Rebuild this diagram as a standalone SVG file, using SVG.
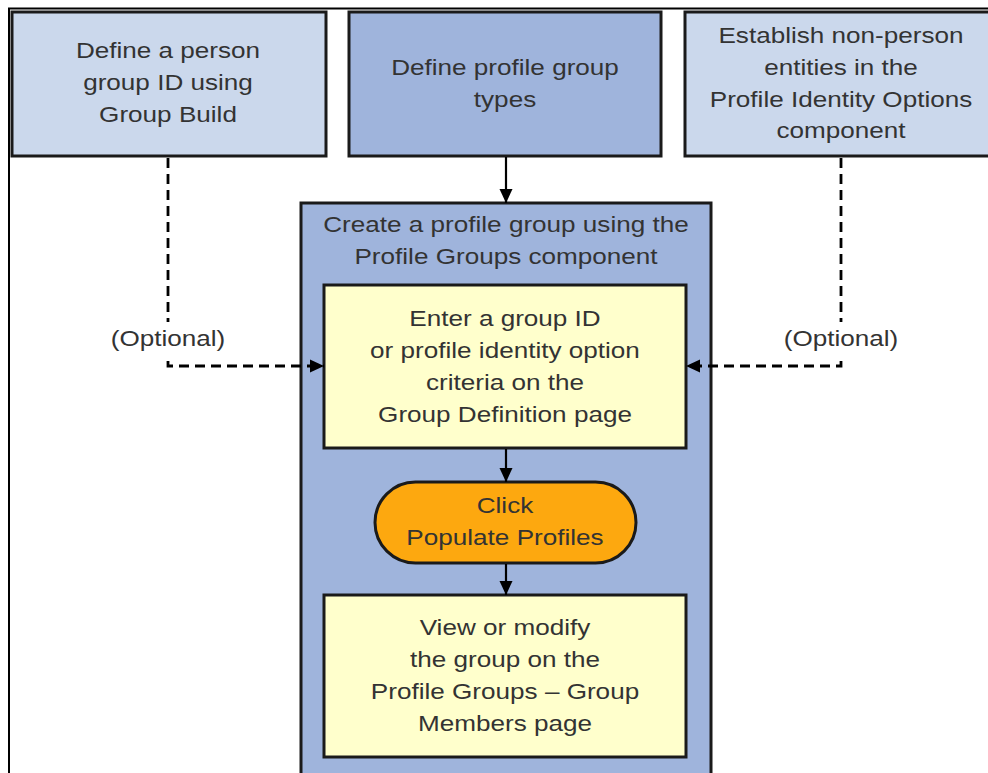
<svg xmlns="http://www.w3.org/2000/svg" width="988" height="773" viewBox="0 0 988 773">
<defs>
<style>
.box{stroke:#1a1a1a;stroke-width:3}
.light{fill:#cbd8ec}
.mid{fill:#9fb4dc}
.yel{fill:#ffffcc}
.pill{fill:#fda80f}
.t{font-family:"Liberation Sans",Arial,sans-serif;font-size:22.5px;fill:#333333;text-anchor:middle}
.solid{fill:none;stroke:#000;stroke-width:2.2}
.dash{fill:none;stroke:#000;stroke-width:2.8;stroke-dasharray:10 6}
</style>
<marker id="ah" markerUnits="userSpaceOnUse" markerWidth="16" markerHeight="16" refX="14" refY="7.5" orient="auto">
<path d="M0,1 L14,7.5 L0,14 z" fill="#000"/>
</marker>
</defs>
<rect width="988" height="773" fill="#ffffff"/>
<g id="frame">
<path d="M9,773 L9,8.5 L988,8.5" fill="none" stroke="#000" stroke-width="2"/>
</g>
<g id="node-person">
<rect class="box light" x="12" y="12" width="314" height="144"/>
<g transform="translate(168 0) scale(1.16 1)">
<text class="t" x="0" y="58">Define a person</text>
<text class="t" x="0" y="90">group ID using</text>
<text class="t" x="0" y="122">Group Build</text>
</g>
</g>
<g id="node-types">
<rect class="box mid" x="349" y="12" width="312" height="144"/>
<g transform="translate(505 0) scale(1.16 1)">
<text class="t" x="0" y="75">Define profile group</text>
<text class="t" x="0" y="107">types</text>
</g>
</g>
<g id="node-nonperson">
<rect class="box light" x="685" y="12" width="320" height="144"/>
<g transform="translate(841 0) scale(1.16 1)">
<text class="t" x="0" y="43">Establish non-person</text>
<text class="t" x="0" y="75">entities in the</text>
<text class="t" x="0" y="107">Profile Identity Options</text>
<text class="t" x="0" y="138">component</text>
</g>
</g>
<g id="node-container">
<rect class="box mid" x="301" y="203" width="410" height="590"/>
<g transform="translate(506 0) scale(1.16 1)">
<text class="t" x="0" y="232">Create a profile group using the</text>
<text class="t" x="0" y="264">Profile Groups component</text>
</g>
</g>
<g id="node-enter">
<rect class="box yel" x="324" y="285" width="362" height="163"/>
<g transform="translate(505 0) scale(1.16 1)">
<text class="t" x="0" y="326">Enter a group ID</text>
<text class="t" x="0" y="358">or profile identity option</text>
<text class="t" x="0" y="390">criteria on the</text>
<text class="t" x="0" y="422">Group Definition page</text>
</g>
</g>
<g id="node-populate">
<rect class="box pill" x="375" y="482" width="261" height="81" rx="40.5" ry="40.5"/>
<g transform="translate(505 0) scale(1.16 1)">
<text class="t" x="0" y="513">Click</text>
<text class="t" x="0" y="545">Populate Profiles</text>
</g>
</g>
<g id="node-view">
<rect class="box yel" x="324" y="595" width="362" height="162"/>
<g transform="translate(505 0) scale(1.16 1)">
<text class="t" x="0" y="635">View or modify</text>
<text class="t" x="0" y="667">the group on the</text>
<text class="t" x="0" y="699">Profile Groups – Group</text>
<text class="t" x="0" y="731">Members page</text>
</g>
</g>
<g id="connectors">
<path class="solid" d="M506,157 L506,203" marker-end="url(#ah)"/>
<path class="solid" d="M506,449 L506,482" marker-end="url(#ah)"/>
<path class="solid" d="M506,564 L506,595" marker-end="url(#ah)"/>
<path class="dash" d="M168,158 L168,322"/>
<path class="dash" d="M168,361 L168,366 L324,366" marker-end="url(#ah)"/>
<path class="dash" d="M841,158 L841,322"/>
<path class="dash" d="M841,361 L841,366 L686,366" marker-end="url(#ah)"/>
<g transform="translate(168 0) scale(1.16 1)">
<text class="t" x="0" y="346">(Optional)</text>
</g>
<g transform="translate(841 0) scale(1.16 1)">
<text class="t" x="0" y="346">(Optional)</text>
</g>
</g>
</svg>
